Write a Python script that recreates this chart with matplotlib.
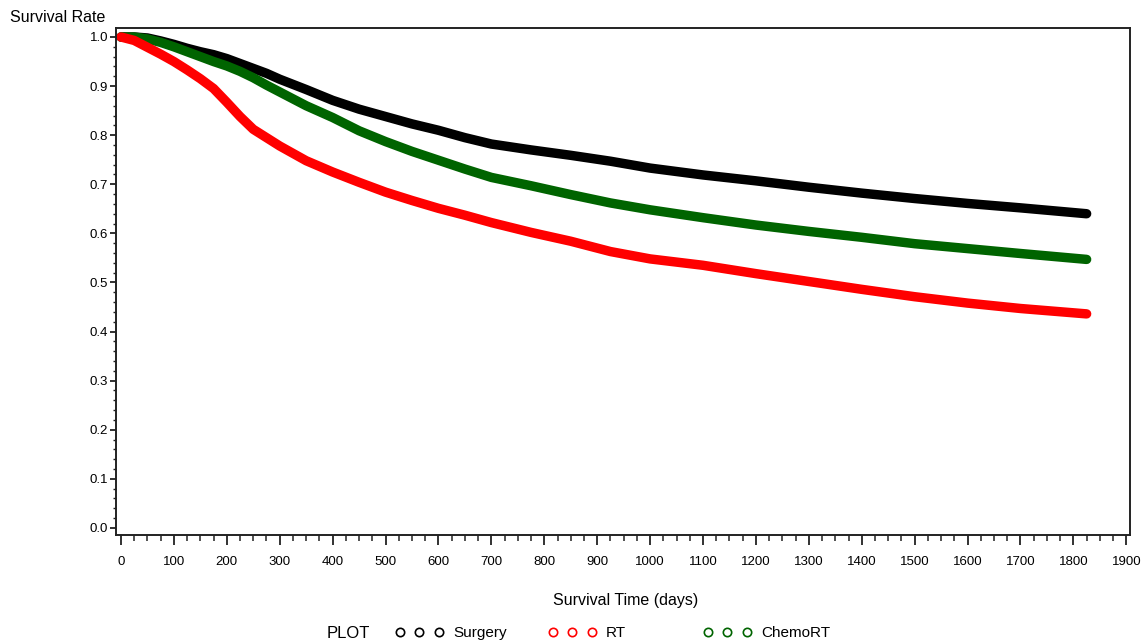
import numpy as np
import matplotlib
matplotlib.use("Agg")
import matplotlib.pyplot as plt
from matplotlib.lines import Line2D
from matplotlib.ticker import MultipleLocator, FormatStrFormatter

plt.rcParams['font.family'] = ['Liberation Sans', 'DejaVu Sans']

# survival curves
days = [0, 25, 50, 75, 100, 125, 150, 175, 200, 225, 250, 275, 300, 350, 400,
        450, 500, 550, 600, 650, 700, 775, 850, 925, 1000, 1100, 1200, 1300,
        1400, 1500, 1600, 1700, 1825]
surgery = [1.0, 1.0, 0.998, 0.992, 0.985, 0.977, 0.970, 0.964, 0.956, 0.946,
           0.936, 0.926, 0.914, 0.893, 0.871, 0.853, 0.838, 0.823, 0.810, 0.795,
           0.782, 0.770, 0.759, 0.747, 0.733, 0.719, 0.707, 0.694, 0.682, 0.671,
           0.661, 0.652, 0.640]
rt = [1.0, 0.993, 0.979, 0.965, 0.950, 0.933, 0.915, 0.895, 0.867, 0.838,
      0.812, 0.795, 0.778, 0.748, 0.725, 0.704, 0.684, 0.667, 0.651, 0.637,
      0.622, 0.602, 0.584, 0.563, 0.548, 0.535, 0.518, 0.502, 0.486, 0.471,
      0.458, 0.447, 0.436]
chemort = [1.0, 1.0, 0.996, 0.989, 0.980, 0.970, 0.960, 0.950, 0.941, 0.930,
           0.917, 0.902, 0.888, 0.860, 0.836, 0.809, 0.787, 0.767, 0.749, 0.731,
           0.714, 0.697, 0.679, 0.662, 0.648, 0.632, 0.617, 0.604, 0.592, 0.579,
           0.569, 0.559, 0.547]

groups = ["Surgery", "RT", "ChemoRT"]
colors = ["black", "#ff0000", "#006400"]

fig = plt.figure(figsize=(11.47, 6.44), dpi=100)
ax = fig.add_axes([0.1011, 0.1693, 0.8841, 0.7872])

for y, c in zip([surgery, chemort, rt], ["black", "#006400", "#ff0000"]):
    ax.plot(days, y, color=c, lw=6.8, solid_capstyle="round", solid_joinstyle="round")

ax.set_xlim(-9.5, 1907)
ax.set_ylim(-0.0143, 1.0183)
ax.xaxis.set_major_locator(MultipleLocator(100))
ax.xaxis.set_minor_locator(MultipleLocator(25))
ax.yaxis.set_major_locator(MultipleLocator(0.1))
ax.yaxis.set_minor_locator(MultipleLocator(0.02))
ax.yaxis.set_major_formatter(FormatStrFormatter("%.1f"))

ax.tick_params(which="both", direction="out", labelsize=9.5, color="#222222")
ax.tick_params(axis="x", which="major", length=7, width=1.3, pad=8)
ax.tick_params(axis="x", which="minor", length=4.3, width=1.1)
ax.tick_params(axis="y", which="major", length=4, width=1.3, pad=1.5)
ax.tick_params(axis="y", which="minor", length=2.5, width=1.0)
for s in ax.spines.values():
    s.set_linewidth(1.4)
    s.set_color("#222222")

fig.text(10 / 1147, 1 - 18 / 644, "Survival Rate", fontsize=11.5, va="center", ha="left")
fig.text(0.5455, 1 - 600 / 644, "Survival Time (days)", fontsize=11.5, va="center", ha="center")

# legend row: "PLOT" then one small legend per group
fig.text(327 / 1147, 1 - 633 / 644, "PLOT", fontsize=12, va="center", ha="left")
anchors = [395, 548, 703]
for g, c, xa in zip(groups, colors, anchors):
    h = Line2D([], [], ls="none", marker="o", markersize=6, markerfacecolor="none",
               markeredgecolor=c, markeredgewidth=1.2)
    fig.legend([h], [g], numpoints=3, frameon=False, fontsize=11,
               loc="center left", bbox_to_anchor=(xa / 1147, 1 - 633 / 644),
               borderpad=0, borderaxespad=0, handletextpad=0.6, handlelength=3.2)

fig.savefig("out.png", dpi=100)
